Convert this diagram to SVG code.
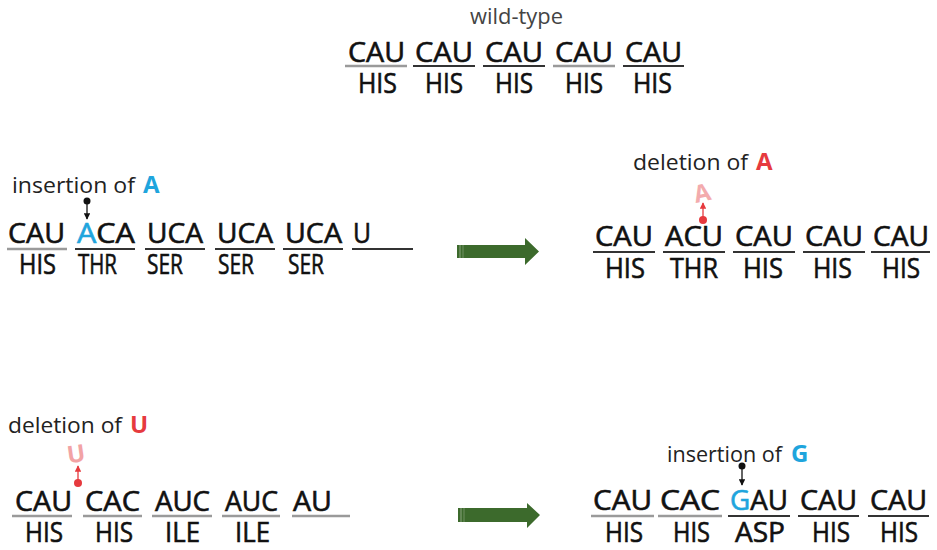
<svg xmlns="http://www.w3.org/2000/svg" width="937" height="550" viewBox="0 0 937 550">
  <style>
    .cod { font-family: "Open Sans", "Liberation Sans", sans-serif; font-size: 27px; fill: #111; stroke: #111; stroke-width: 0.6; }
    .aa { font-family: "Open Sans", "Liberation Sans", sans-serif; font-size: 27px; fill: #111; stroke: #111; stroke-width: 0.6; }
    .lbl { font-family: "Open Sans", "Liberation Sans", sans-serif; font-size: 21px; fill: #222; }
    .big { font-family: "Open Sans", "Liberation Sans", sans-serif; font-size: 24px; font-weight: bold; }
    .blue { fill: #1fa5dd; stroke: #1fa5dd; }
    .red { fill: #e63a3e; }
    .ghost { fill: #f2a3a5; }
    .ulg { stroke: #9a9a9a; stroke-width: 2.5; }
    .uld { stroke: #333; stroke-width: 2; }
    .arrow { fill: #3c6a2c; }
  </style>
  <defs>
    <marker id="tipBlack" viewBox="0 0 10 10" refX="9" refY="5" markerWidth="5" markerHeight="5" orient="auto">
      <path d="M0,0 L10,5 L0,10 z" fill="#111"/>
    </marker>
    <marker id="tipRed" viewBox="0 0 10 10" refX="9" refY="5" markerWidth="5" markerHeight="5" orient="auto">
      <path d="M0,0 L10,5 L0,10 z" fill="#e63a3e"/>
    </marker>
  </defs>

  <!-- wild-type reading frame -->
  <g id="wildtype">
    <text class="lbl" x="470" y="24" textLength="93" lengthAdjust="spacingAndGlyphs" style="fill:#444">wild-type</text>
    <text class="cod" x="348" y="62" textLength="57" lengthAdjust="spacingAndGlyphs">CAU</text>
    <text class="cod" x="415" y="62" textLength="58" lengthAdjust="spacingAndGlyphs">CAU</text>
    <text class="cod" x="485" y="62" textLength="58" lengthAdjust="spacingAndGlyphs">CAU</text>
    <text class="cod" x="555" y="62" textLength="58" lengthAdjust="spacingAndGlyphs">CAU</text>
    <text class="cod" x="625" y="62" textLength="57" lengthAdjust="spacingAndGlyphs">CAU</text>
    <line class="ulg" x1="345" y1="66" x2="407" y2="66"/>
    <line class="uld" x1="413" y1="66" x2="475" y2="66"/>
    <line class="uld" x1="483" y1="66" x2="545" y2="66"/>
    <line class="ulg" x1="553" y1="66" x2="615" y2="66"/>
    <line class="uld" x1="623" y1="66" x2="684" y2="66"/>
    <text class="aa" x="358" y="93" textLength="39" lengthAdjust="spacingAndGlyphs">HIS</text>
    <text class="aa" x="425" y="93" textLength="38" lengthAdjust="spacingAndGlyphs">HIS</text>
    <text class="aa" x="495" y="93" textLength="38" lengthAdjust="spacingAndGlyphs">HIS</text>
    <text class="aa" x="565" y="93" textLength="38" lengthAdjust="spacingAndGlyphs">HIS</text>
    <text class="aa" x="633" y="93" textLength="39" lengthAdjust="spacingAndGlyphs">HIS</text>
  </g>

  <!-- frame shifted by inserting A -->
  <g id="insertA">
    <text class="lbl" x="12" y="193" textLength="123" lengthAdjust="spacingAndGlyphs">insertion of</text>
    <text class="big blue" x="143" y="193" style="stroke:none">A</text>
    <circle cx="87" cy="201" r="3.5" fill="#111"/>
    <line x1="87" y1="203" x2="87" y2="219" stroke="#111" stroke-width="1.3" marker-end="url(#tipBlack)"/>
    <text class="cod" x="8" y="243" textLength="57" lengthAdjust="spacingAndGlyphs">CAU</text>
    <text class="cod" x="77" y="243" textLength="58" lengthAdjust="spacingAndGlyphs"><tspan class="blue">A</tspan>CA</text>
    <text class="cod" x="147" y="243" textLength="56" lengthAdjust="spacingAndGlyphs">UCA</text>
    <text class="cod" x="217" y="243" textLength="56" lengthAdjust="spacingAndGlyphs">UCA</text>
    <text class="cod" x="285" y="243" textLength="57" lengthAdjust="spacingAndGlyphs">UCA</text>
    <text class="cod" x="353" y="243" textLength="18" lengthAdjust="spacingAndGlyphs">U</text>
    <line class="ulg" x1="7" y1="249" x2="67" y2="249"/>
    <line class="uld" x1="75" y1="249" x2="135" y2="249"/>
    <line class="uld" x1="145" y1="249" x2="205" y2="249"/>
    <line class="uld" x1="215" y1="249" x2="275" y2="249"/>
    <line class="uld" x1="283" y1="249" x2="343" y2="249"/>
    <line class="uld" x1="352" y1="249" x2="413" y2="249"/>
    <text class="aa" x="19" y="274" textLength="37" lengthAdjust="spacingAndGlyphs">HIS</text>
    <text class="aa" x="78" y="274" textLength="39" lengthAdjust="spacingAndGlyphs">THR</text>
    <text class="aa" x="147" y="274" textLength="36" lengthAdjust="spacingAndGlyphs">SER</text>
    <text class="aa" x="218" y="274" textLength="36" lengthAdjust="spacingAndGlyphs">SER</text>
    <text class="aa" x="288" y="274" textLength="36" lengthAdjust="spacingAndGlyphs">SER</text>
  </g>

  <!-- frame restored by deleting A -->
  <g id="deleteA">
    <text class="lbl" x="633" y="170" textLength="115" lengthAdjust="spacingAndGlyphs">deletion of</text>
    <text class="big red" x="756" y="170">A</text>
    <text class="big ghost" x="694" y="201" font-size="20" transform="rotate(-12 704 194)" opacity="0.9">A</text>
    <line x1="703" y1="218" x2="703" y2="203" stroke="#e63a3e" stroke-width="1.3" marker-end="url(#tipRed)"/>
    <circle cx="703" cy="220" r="4" fill="#e63a3e"/>
    <text class="cod" x="595" y="246" textLength="58" lengthAdjust="spacingAndGlyphs">CAU</text>
    <text class="cod" x="665" y="246" textLength="58" lengthAdjust="spacingAndGlyphs">ACU</text>
    <text class="cod" x="735" y="246" textLength="58" lengthAdjust="spacingAndGlyphs">CAU</text>
    <text class="cod" x="805" y="246" textLength="58" lengthAdjust="spacingAndGlyphs">CAU</text>
    <text class="cod" x="873" y="246" textLength="56" lengthAdjust="spacingAndGlyphs">CAU</text>
    <line class="uld" x1="593" y1="252" x2="655" y2="252"/>
    <line class="uld" x1="663" y1="252" x2="725" y2="252"/>
    <line class="uld" x1="733" y1="252" x2="795" y2="252"/>
    <line class="uld" x1="803" y1="252" x2="865" y2="252"/>
    <line class="uld" x1="871" y1="252" x2="930" y2="252"/>
    <text class="aa" x="605" y="278" textLength="40" lengthAdjust="spacingAndGlyphs">HIS</text>
    <text class="aa" x="670" y="278" textLength="48" lengthAdjust="spacingAndGlyphs">THR</text>
    <text class="aa" x="743" y="278" textLength="40" lengthAdjust="spacingAndGlyphs">HIS</text>
    <text class="aa" x="813" y="278" textLength="39" lengthAdjust="spacingAndGlyphs">HIS</text>
    <text class="aa" x="882" y="278" textLength="38" lengthAdjust="spacingAndGlyphs">HIS</text>
  </g>

  <!-- frame shifted by deleting U -->
  <g id="deleteU">
    <text class="lbl" x="8" y="433" textLength="114" lengthAdjust="spacingAndGlyphs">deletion of</text>
    <text class="big red" x="130" y="433">U</text>
    <text class="big ghost" x="67" y="462" font-size="22" transform="rotate(-8 78 453)">U</text>
    <line x1="78" y1="481" x2="78" y2="466" stroke="#e63a3e" stroke-width="1.3" marker-end="url(#tipRed)"/>
    <circle cx="78" cy="483" r="4" fill="#e63a3e"/>
    <text class="cod" x="15" y="511" textLength="57" lengthAdjust="spacingAndGlyphs">CAU</text>
    <text class="cod" x="85" y="511" textLength="55" lengthAdjust="spacingAndGlyphs">CAC</text>
    <text class="cod" x="155" y="511" textLength="55" lengthAdjust="spacingAndGlyphs">AUC</text>
    <text class="cod" x="225" y="511" textLength="53" lengthAdjust="spacingAndGlyphs">AUC</text>
    <text class="cod" x="293" y="511" textLength="39" lengthAdjust="spacingAndGlyphs">AU</text>
    <line class="ulg" x1="12" y1="516" x2="72" y2="516"/>
    <line class="ulg" x1="83" y1="516" x2="142" y2="516"/>
    <line class="ulg" x1="152" y1="516" x2="212" y2="516"/>
    <line class="ulg" x1="222" y1="516" x2="280" y2="516"/>
    <line class="ulg" x1="292" y1="516" x2="350" y2="516"/>
    <text class="aa" x="25" y="542" textLength="38" lengthAdjust="spacingAndGlyphs">HIS</text>
    <text class="aa" x="95" y="542" textLength="38" lengthAdjust="spacingAndGlyphs">HIS</text>
    <text class="aa" x="165" y="542" textLength="35" lengthAdjust="spacingAndGlyphs">ILE</text>
    <text class="aa" x="235" y="542" textLength="35" lengthAdjust="spacingAndGlyphs">ILE</text>
  </g>

  <!-- frame restored by inserting G -->
  <g id="insertG">
    <text class="lbl" x="667" y="462" textLength="115" lengthAdjust="spacingAndGlyphs">insertion of</text>
    <text class="big blue" x="791" y="462" style="stroke:none">G</text>
    <circle cx="742" cy="466" r="3.5" fill="#111"/>
    <line x1="742" y1="468" x2="742" y2="485" stroke="#111" stroke-width="1.3" marker-end="url(#tipBlack)"/>
    <text class="cod" x="593" y="510" textLength="59" lengthAdjust="spacingAndGlyphs">CAU</text>
    <text class="cod" x="660" y="510" textLength="60" lengthAdjust="spacingAndGlyphs">CAC</text>
    <text class="cod" x="730" y="510" textLength="58" lengthAdjust="spacingAndGlyphs"><tspan class="blue">G</tspan>AU</text>
    <text class="cod" x="800" y="510" textLength="57" lengthAdjust="spacingAndGlyphs">CAU</text>
    <text class="cod" x="870" y="510" textLength="57" lengthAdjust="spacingAndGlyphs">CAU</text>
    <line class="ulg" x1="591" y1="516" x2="654" y2="516"/>
    <line class="ulg" x1="658" y1="516" x2="722" y2="516"/>
    <line class="uld" x1="728" y1="516" x2="790" y2="516"/>
    <line class="uld" x1="798" y1="516" x2="859" y2="516"/>
    <line class="uld" x1="868" y1="516" x2="929" y2="516"/>
    <text class="aa" x="605" y="542" textLength="38" lengthAdjust="spacingAndGlyphs">HIS</text>
    <text class="aa" x="673" y="542" textLength="37" lengthAdjust="spacingAndGlyphs">HIS</text>
    <text class="aa" x="735" y="542" textLength="50" lengthAdjust="spacingAndGlyphs">ASP</text>
    <text class="aa" x="812" y="542" textLength="38" lengthAdjust="spacingAndGlyphs">HIS</text>
    <text class="aa" x="880" y="542" textLength="38" lengthAdjust="spacingAndGlyphs">HIS</text>
  </g>

  <!-- block arrows leading to the compensating mutation -->
  <g id="connectors">
    <g id="arrow1">
      <path class="arrow" d="M457,245 H525 V238 L539,251.5 L525,265 V258 H457 Z"/>
      <line x1="460" y1="245" x2="460" y2="258" stroke="#8aa57e" stroke-width="1"/>
      <line x1="463" y1="245" x2="463" y2="258" stroke="#6e8f61" stroke-width="1"/>
    </g>
    <g id="arrow2">
      <path class="arrow" d="M458,508 H527 V503 L540,515 L527,528 V522 H458 Z"/>
      <line x1="461" y1="508" x2="461" y2="522" stroke="#8aa57e" stroke-width="1"/>
      <line x1="464" y1="508" x2="464" y2="522" stroke="#6e8f61" stroke-width="1"/>
    </g>
  </g>
</svg>
